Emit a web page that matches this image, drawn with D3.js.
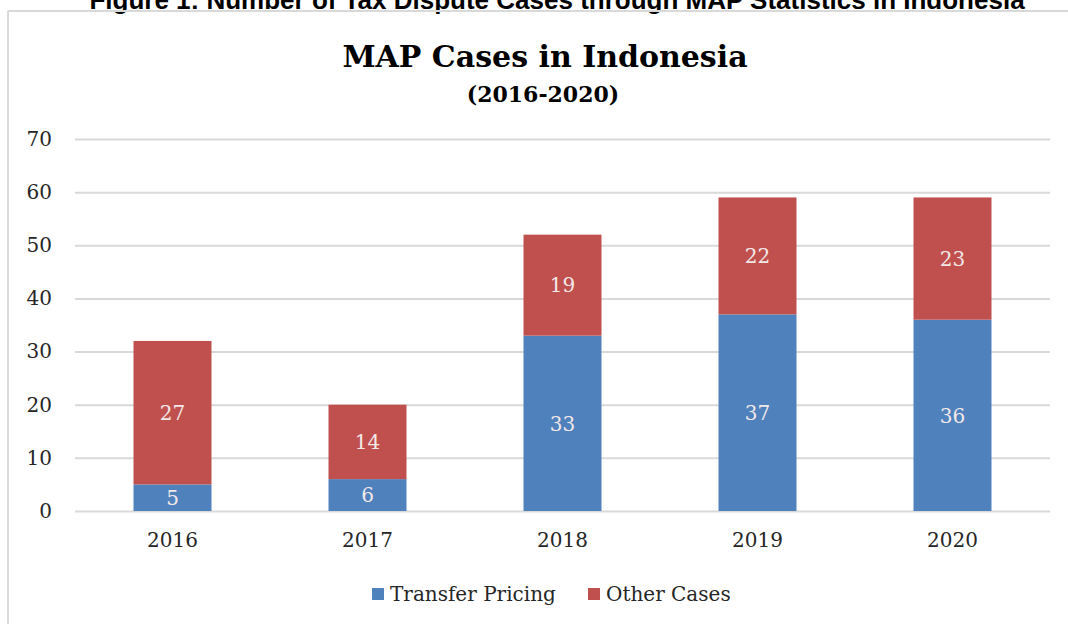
<!DOCTYPE html>
<html>
<head>
<meta charset="utf-8">
<script src="https://cdn.jsdelivr.net/npm/d3@7"></script>
<style>
  body { margin: 0; background: #fff; }
  svg { display: block; }
</style>
</head>
<body>
<div id="chart"></div>
<script>
// data
var years = ["2016", "2017", "2018", "2019", "2020"];
var transferPricing = [5, 6, 33, 37, 36];
var otherCases = [27, 14, 19, 22, 23];
var seriesNames = ["Transfer Pricing", "Other Cases"];
var yTicks = [0, 10, 20, 30, 40, 50, 60, 70];

var W = 1068, H = 624;
var margin = {top: 139, right: 18, bottom: 113, left: 75},
    width = W - margin.left - margin.right,
    height = H - margin.top - margin.bottom;

var serif = "'DejaVu Serif', 'Liberation Serif', serif";

var svg = d3.select("#chart").append("svg")
    .attr("width", W)
    .attr("height", H);

// figure caption, cut off at the top like in the source
svg.append("text")
    .attr("x", 557)
    .attr("y", 9)
    .attr("text-anchor", "middle")
    .style("font-family", "'Liberation Sans', Arial, sans-serif")
    .style("font-weight", "bold")
    .style("font-size", "26px")
    .text("Figure 1: Number of Tax Dispute Cases through MAP Statistics in Indonesia");

// chart frame (top + left edges visible)
svg.append("line").attr("x1", 8).attr("x2", W).attr("y1", 11).attr("y2", 11)
    .attr("stroke", "#d9d9d9").attr("stroke-width", 2);
svg.append("line").attr("x1", 8).attr("x2", 8).attr("y1", 11).attr("y2", H)
    .attr("stroke", "#d9d9d9").attr("stroke-width", 2);

// titles
svg.append("text")
    .attr("x", 545)
    .attr("y", 67)
    .attr("text-anchor", "middle")
    .style("font-family", serif)
    .style("font-weight", "bold")
    .style("font-size", "30px")
    .attr("fill", "#000")
    .text("MAP Cases in Indonesia");

svg.append("text")
    .attr("x", 543)
    .attr("y", 102)
    .attr("text-anchor", "middle")
    .style("font-family", serif)
    .style("font-weight", "bold")
    .style("font-size", "22px")
    .attr("fill", "#000")
    .text("(2016-2020)");

var g = svg.append("g")
    .attr("transform", "translate(" + margin.left + "," + margin.top + ")");

var x = d3.scaleBand()
    .domain(years)
    .range([0, width])
    .paddingInner(0.6)
    .paddingOuter(0.3);

var y = d3.scaleLinear()
    .domain([0, 70])
    .range([height, 0]);

var color = d3.scaleOrdinal()
    .domain(seriesNames)
    .range(["#4f81bd", "#c0504d"]);

// gridlines
var yGrid = d3.axisLeft(y)
    .tickValues(yTicks)
    .tickFormat("")
    .tickSizeInner(-width)
    .tickSizeOuter(0);

g.append("g")
    .attr("class", "y-grid")
    .call(yGrid)
    .call(s => s.select(".domain").remove())
    .selectAll("line")
    .attr("stroke", "#d9d9d9")
    .attr("stroke-width", 2);

// y axis labels
g.append("g")
    .call(d3.axisLeft(y).tickValues(yTicks).tickSize(0).tickPadding(23))
    .call(s => s.select(".domain").remove())
    .selectAll("text")
    .style("font-family", serif)
    .style("font-size", "20px")
    .attr("fill", "#262626");

// x axis labels
g.append("g")
    .attr("transform", "translate(0," + height + ")")
    .call(d3.axisBottom(x).tickSize(0).tickPadding(22))
    .call(s => s.select(".domain").remove())
    .selectAll("text")
    .style("font-family", serif)
    .style("font-size", "20px")
    .attr("fill", "#262626");

// stacked data
var rows = years.map(function(yr, i) {
    return {year: yr, "Transfer Pricing": transferPricing[i], "Other Cases": otherCases[i]};
});
var stacked = d3.stack().keys(seriesNames)(rows);

var layers = g.selectAll(".layer")
    .data(stacked)
    .enter().append("g")
    .attr("class", "layer")
    .attr("fill", d => color(d.key));

layers.selectAll("rect")
    .data(d => d)
    .enter().append("rect")
    .attr("x", d => x(d.data.year))
    .attr("y", d => y(d[1]))
    .attr("width", x.bandwidth())
    .attr("height", d => y(d[0]) - y(d[1]));

// value labels
layers.selectAll("text")
    .data(d => d.map(v => ({v: v, key: d.key})))
    .enter().append("text")
    .attr("x", d => x(d.v.data.year) + x.bandwidth() / 2)
    .attr("y", d => y((d.v[0] + d.v[1]) / 2))
    .attr("dy", "0.36em")
    .attr("text-anchor", "middle")
    .style("font-family", serif)
    .style("font-size", "20px")
    .attr("fill", "#f2e8e8")
    .text(d => d.v.data[d.key]);

// legend
var legendX = [372, 588];
var legend = svg.selectAll(".legend")
    .data(seriesNames)
    .enter().append("g")
    .attr("class", "legend")
    .attr("transform", (d, i) => "translate(" + legendX[i] + ",594)");

legend.append("rect")
    .attr("x", 0)
    .attr("y", -6)
    .attr("width", 12)
    .attr("height", 12)
    .attr("fill", d => color(d));

legend.append("text")
    .attr("x", 18)
    .attr("dy", "0.36em")
    .style("font-family", serif)
    .style("font-size", "20px")
    .attr("fill", "#262626")
    .text(d => d);
</script>
</body>
</html>
